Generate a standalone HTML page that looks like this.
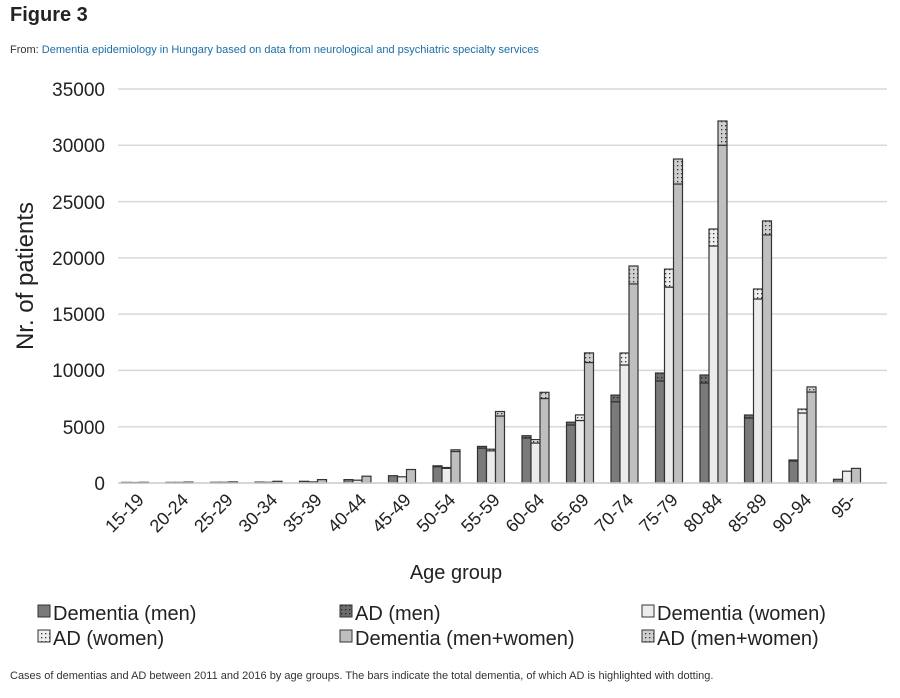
<!DOCTYPE html>
<html><head><meta charset="utf-8"><style>
body{margin:0;background:#fff;width:900px;height:693px;overflow:hidden;font-family:"Liberation Sans",sans-serif}
</style></head><body>
<svg width="900" height="693" xmlns="http://www.w3.org/2000/svg" font-family="Liberation Sans, sans-serif">
<defs>
<pattern id="dotD" width="4" height="4" patternUnits="userSpaceOnUse"><rect width="4" height="4" fill="#6e6e6e"/><rect x="1" y="1" width="1.3" height="1.3" fill="#222"/></pattern>
<pattern id="dotL" width="4" height="4" patternUnits="userSpaceOnUse"><rect width="4" height="4" fill="#eeeeee"/><rect x="1" y="1" width="1.3" height="1.3" fill="#333"/></pattern>
<pattern id="dotG" width="4" height="4" patternUnits="userSpaceOnUse"><rect width="4" height="4" fill="#cfcfcf"/><rect x="1" y="1" width="1.3" height="1.3" fill="#333"/></pattern>
</defs>
<text x="10" y="21" font-size="20" font-weight="bold" fill="#222">Figure 3</text>
<text x="10" y="53" font-size="11" fill="#333">From: <tspan fill="#1a6fa8">Dementia epidemiology in Hungary based on data from neurological and psychiatric specialty services</tspan></text>
<g stroke="#d9d9d9" stroke-width="1.5">
<line x1="118" x2="887" y1="89" y2="89"/><line x1="118" x2="887" y1="145.3" y2="145.3"/><line x1="118" x2="887" y1="201.6" y2="201.6"/><line x1="118" x2="887" y1="257.9" y2="257.9"/><line x1="118" x2="887" y1="314.1" y2="314.1"/><line x1="118" x2="887" y1="370.4" y2="370.4"/><line x1="118" x2="887" y1="426.7" y2="426.7"/><line x1="118" x2="887" y1="483" y2="483"/>
</g>
<g font-size="19" fill="#222" text-anchor="end">
<text x="105" y="96">35000</text><text x="105" y="152">30000</text><text x="105" y="209">25000</text><text x="105" y="265">20000</text><text x="105" y="321">15000</text><text x="105" y="377">10000</text><text x="105" y="434">5000</text><text x="105" y="490">0</text>
</g>
<text transform="translate(33,276) rotate(-90)" font-size="24" text-anchor="middle" fill="#222">Nr. of patients</text>
<g stroke="#333" stroke-width="1.2">
<rect x="121.5" y="482.4" width="9" height="0.6" fill="#7a7a7a"/><rect x="130.5" y="482.5" width="9" height="0.5" fill="#ececec"/><rect x="139.5" y="482.3" width="9" height="0.7" fill="#bfbfbf"/>
<rect x="166" y="482.4" width="9" height="0.6" fill="#7a7a7a"/><rect x="175" y="482.4" width="9" height="0.6" fill="#ececec"/><rect x="184" y="482.1" width="9" height="0.9" fill="#bfbfbf"/>
<rect x="210.5" y="482.3" width="9" height="0.7" fill="#7a7a7a"/><rect x="219.5" y="482.3" width="9" height="0.7" fill="#ececec"/><rect x="228.5" y="481.9" width="9" height="1.1" fill="#bfbfbf"/>
<rect x="255" y="482.1" width="9" height="0.9" fill="#7a7a7a"/><rect x="264" y="482.3" width="9" height="0.7" fill="#ececec"/><rect x="273" y="481.3" width="9" height="1.7" fill="#bfbfbf"/>
<rect x="299.5" y="481.3" width="9" height="1.7" fill="#7a7a7a"/><rect x="308.5" y="481.9" width="9" height="1.1" fill="#ececec"/><rect x="317.5" y="479.6" width="9" height="3.4" fill="#bfbfbf"/>
<rect x="344" y="479.6" width="9" height="3.4" fill="#7a7a7a"/><rect x="353" y="480.2" width="9" height="2.8" fill="#ececec"/><rect x="362" y="476.2" width="9" height="6.8" fill="#bfbfbf"/>
<rect x="388.5" y="475.7" width="9" height="7.3" fill="#7a7a7a"/><rect x="397.5" y="476.8" width="9" height="6.2" fill="#ececec"/><rect x="406.5" y="469.5" width="9" height="13.5" fill="#bfbfbf"/>
<rect x="433" y="466.7" width="9" height="16.3" fill="#7a7a7a"/><rect x="433" y="465.8" width="9" height="0.9" fill="url(#dotD)"/>
<rect x="442" y="468.4" width="9" height="14.6" fill="#ececec"/><rect x="442" y="467.5" width="9" height="0.9" fill="url(#dotL)"/>
<rect x="451" y="451.5" width="9" height="31.5" fill="#bfbfbf"/><rect x="451" y="449.8" width="9" height="1.7" fill="url(#dotG)"/>
<rect x="477.5" y="448.1" width="9" height="34.9" fill="#7a7a7a"/><rect x="477.5" y="446.4" width="9" height="1.7" fill="url(#dotD)"/>
<rect x="486.5" y="450.9" width="9" height="32.1" fill="#ececec"/><rect x="486.5" y="449.2" width="9" height="1.7" fill="url(#dotL)"/>
<rect x="495.5" y="416" width="9" height="67" fill="#bfbfbf"/><rect x="495.5" y="411.5" width="9" height="4.5" fill="url(#dotG)"/>
<rect x="522" y="438" width="9" height="45" fill="#7a7a7a"/><rect x="522" y="435.7" width="9" height="2.3" fill="url(#dotD)"/>
<rect x="531" y="443" width="9" height="40" fill="#ececec"/><rect x="531" y="439.6" width="9" height="3.4" fill="url(#dotL)"/>
<rect x="540" y="398.5" width="9" height="84.5" fill="#bfbfbf"/><rect x="540" y="392.3" width="9" height="6.2" fill="url(#dotG)"/>
<rect x="566.5" y="425" width="9" height="58" fill="#7a7a7a"/><rect x="566.5" y="422.2" width="9" height="2.8" fill="url(#dotD)"/>
<rect x="575.5" y="420.5" width="9" height="62.5" fill="#ececec"/><rect x="575.5" y="414.9" width="9" height="5.6" fill="url(#dotL)"/>
<rect x="584.5" y="362.5" width="9" height="120.5" fill="#bfbfbf"/><rect x="584.5" y="352.9" width="9" height="9.6" fill="url(#dotG)"/>
<rect x="611" y="401.9" width="9" height="81.1" fill="#7a7a7a"/><rect x="611" y="395.1" width="9" height="6.8" fill="url(#dotD)"/>
<rect x="620" y="365" width="9" height="118" fill="#ececec"/><rect x="620" y="353" width="9" height="12" fill="url(#dotL)"/>
<rect x="629" y="283.9" width="9" height="199.1" fill="#bfbfbf"/><rect x="629" y="266" width="9" height="17.9" fill="url(#dotG)"/>
<rect x="655.5" y="381" width="9" height="102" fill="#7a7a7a"/><rect x="655.5" y="373" width="9" height="8" fill="url(#dotD)"/>
<rect x="664.5" y="287.1" width="9" height="195.9" fill="#ececec"/><rect x="664.5" y="269.1" width="9" height="18" fill="url(#dotL)"/>
<rect x="673.5" y="184" width="9" height="299" fill="#bfbfbf"/><rect x="673.5" y="159" width="9" height="25" fill="url(#dotG)"/>
<rect x="700" y="383" width="9" height="100" fill="#7a7a7a"/><rect x="700" y="375" width="9" height="8" fill="url(#dotD)"/>
<rect x="709" y="246" width="9" height="237" fill="#ececec"/><rect x="709" y="229" width="9" height="17" fill="url(#dotL)"/>
<rect x="718" y="145.2" width="9" height="337.8" fill="#bfbfbf"/><rect x="718" y="121" width="9" height="24.2" fill="url(#dotG)"/>
<rect x="744.5" y="418" width="9" height="65" fill="#7a7a7a"/><rect x="744.5" y="415" width="9" height="3" fill="url(#dotD)"/>
<rect x="753.5" y="299" width="9" height="184" fill="#ececec"/><rect x="753.5" y="289" width="9" height="10" fill="url(#dotL)"/>
<rect x="762.5" y="234.9" width="9" height="248.1" fill="#bfbfbf"/><rect x="762.5" y="220.9" width="9" height="14" fill="url(#dotG)"/>
<rect x="789" y="461" width="9" height="22" fill="#7a7a7a"/><rect x="789" y="460" width="9" height="1" fill="url(#dotD)"/>
<rect x="798" y="413" width="9" height="70" fill="#ececec"/><rect x="798" y="409.1" width="9" height="3.9" fill="url(#dotL)"/>
<rect x="807" y="392" width="9" height="91" fill="#bfbfbf"/><rect x="807" y="386.9" width="9" height="5.1" fill="url(#dotG)"/>
<rect x="833.5" y="479.3" width="9" height="3.7" fill="#7a7a7a"/><rect x="842.5" y="471.2" width="9" height="11.8" fill="#ececec"/><rect x="851.5" y="468.4" width="9" height="14.6" fill="#bfbfbf"/>
</g>
<g font-size="18" fill="#222" text-anchor="end">
<text transform="translate(145,501) rotate(-45)">15-19</text>
<text transform="translate(189.5,501) rotate(-45)">20-24</text>
<text transform="translate(234,501) rotate(-45)">25-29</text>
<text transform="translate(278.5,501) rotate(-45)">30-34</text>
<text transform="translate(323,501) rotate(-45)">35-39</text>
<text transform="translate(367.5,501) rotate(-45)">40-44</text>
<text transform="translate(412,501) rotate(-45)">45-49</text>
<text transform="translate(456.5,501) rotate(-45)">50-54</text>
<text transform="translate(501,501) rotate(-45)">55-59</text>
<text transform="translate(545.5,501) rotate(-45)">60-64</text>
<text transform="translate(590,501) rotate(-45)">65-69</text>
<text transform="translate(634.5,501) rotate(-45)">70-74</text>
<text transform="translate(679,501) rotate(-45)">75-79</text>
<text transform="translate(723.5,501) rotate(-45)">80-84</text>
<text transform="translate(768,501) rotate(-45)">85-89</text>
<text transform="translate(812.5,501) rotate(-45)">90-94</text>
<text transform="translate(857,501) rotate(-45)">95-</text>
</g>
<text x="456" y="579" font-size="20" text-anchor="middle" fill="#222">Age group</text>
<g font-size="20" fill="#222" stroke="#333" stroke-width="1">
<rect x="38" y="605" width="12" height="12" fill="#7a7a7a"/><text x="53" y="620" stroke="none">Dementia (men)</text>
<rect x="340" y="605" width="12" height="12" fill="url(#dotD)"/><text x="355" y="620" stroke="none">AD (men)</text>
<rect x="642" y="605" width="12" height="12" fill="#ececec"/><text x="657" y="620" stroke="none">Dementia (women)</text>
<rect x="38" y="630" width="12" height="12" fill="url(#dotL)"/><text x="53" y="645" stroke="none">AD (women)</text>
<rect x="340" y="630" width="12" height="12" fill="#bfbfbf"/><text x="355" y="645" stroke="none">Dementia (men+women)</text>
<rect x="642" y="630" width="12" height="12" fill="url(#dotG)"/><text x="657" y="645" stroke="none">AD (men+women)</text>
</g>
<text x="10" y="679" font-size="11" fill="#333">Cases of dementias and AD between 2011 and 2016 by age groups. The bars indicate the total dementia, of which AD is highlighted with dotting.</text>
<line x1="118" x2="887" y1="483" y2="483" stroke="#d0d0d0" stroke-width="1.5"/>
</svg>
</body></html>
